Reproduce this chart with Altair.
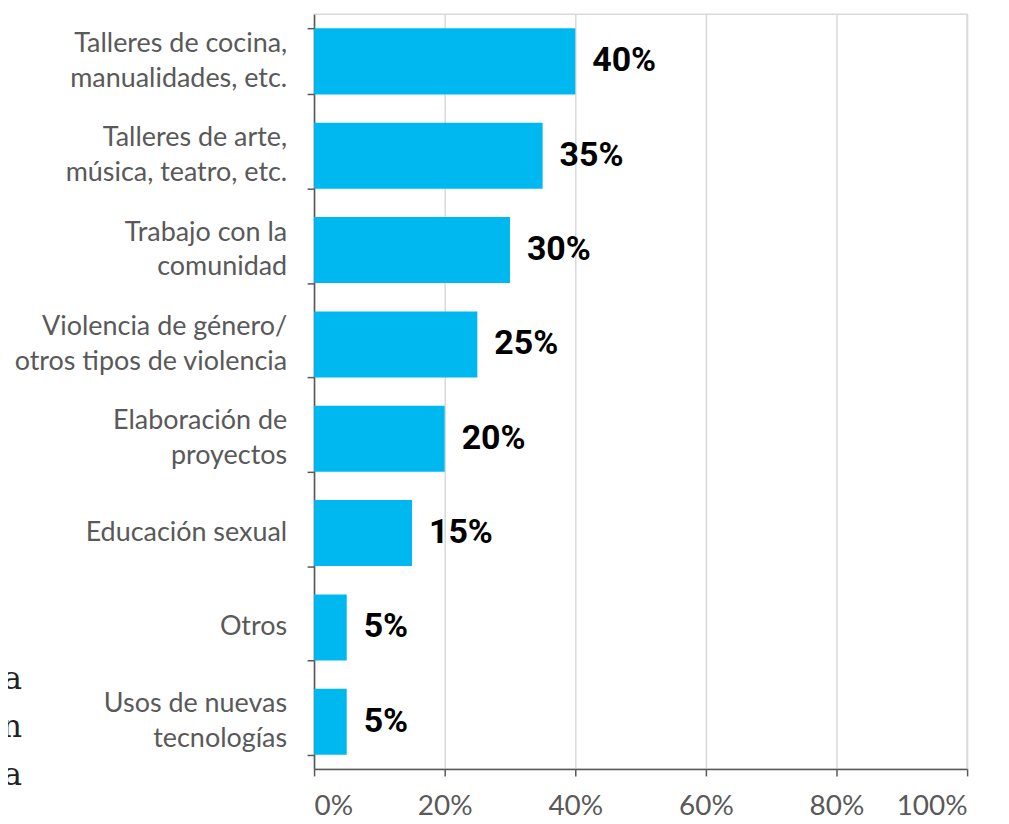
import altair as alt
import pandas as pd

categories = [
    "Talleres de cocina,|manualidades, etc.",
    "Talleres de arte,|música, teatro, etc.",
    "Trabajo con la|comunidad",
    "Violencia de género/|otros tipos de violencia",
    "Elaboración de|proyectos",
    "Educación sexual",
    "Otros",
    "Usos de nuevas|tecnologías",
]
values = [0.40, 0.35, 0.30, 0.25, 0.20, 0.15, 0.05, 0.05]
value_labels = ["40%", "35%", "30%", "25%", "20%", "15%", "5%", "5%"]
x_ticks = [0, 0.2, 0.4, 0.6, 0.8, 1.0]
side_letters = ["a", "n", "a"]

df = pd.DataFrame({"cat": categories, "val": values, "lab": value_labels})

# label rows: line text + which line of how many
lab_rows = []
for c in categories:
    parts = c.split("|")
    for i, p in enumerate(parts):
        kind = "single" if len(parts) == 1 else ("first" if i == 0 else "second")
        lab_rows.append({"cat": c, "line": p, "kind": kind})
lab_df = pd.DataFrame(lab_rows)

band = alt.Scale(domain=categories, paddingInner=0.3, paddingOuter=0.15)

y = alt.Y(
    "cat:N",
    title=None,
    scale=band,
    axis=alt.Axis(
        labels=False,
        tickBand="extent",
        tickSize=7,
        tickColor="#595959",
        tickWidth=1.5,
        domainColor="#595959",
        domainWidth=1.5,
        grid=False,
    ),
)

x = alt.X(
    "val:Q",
    title=None,
    scale=alt.Scale(domain=[0, 1], nice=False),
    axis=alt.Axis(
        values=x_ticks,
        format=".0%",
        labelFont="Lato",
        labelFontSize=28,
        labelColor="#595959",
        labelPadding=17,
        tickSize=7,
        tickColor="#595959",
        tickWidth=1.5,
        domainColor="#595959",
        domainWidth=1.5,
        grid=True,
        gridColor="#d9d9d9",
        gridWidth=1.5,
    ),
)

bars = alt.Chart(df).mark_bar(color="#00B8F0").encode(x=x, y=y)

texts = alt.Chart(df).mark_text(
    align="left", baseline="middle", dx=17, font="Roboto", fontWeight="bold",
    fontSize=34, color="#000000",
).encode(x=alt.X("val:Q"), y=alt.Y("cat:N", scale=band), text="lab:N")

def cat_labels(kind, dy):
    return alt.Chart(lab_df).transform_filter(
        alt.datum.kind == kind
    ).mark_text(
        align="right", baseline="middle", dy=dy, font="Lato", fontSize=27,
        color="#595959",
    ).encode(x=alt.value(-27), y=alt.Y("cat:N", scale=band), text="line:N")

main = alt.layer(
    bars, texts,
    cat_labels("single", 0), cat_labels("first", -17.5), cat_labels("second", 17.5),
)

letters_df = pd.DataFrame({"t": side_letters, "i": [0, 1, 2]})
letters = alt.Chart(letters_df).mark_text(
    align="right", baseline="middle", font="DejaVu Serif", fontSize=32, color="#222222",
).encode(
    text="t:N",
    x=alt.value(-293),
    y=alt.Y("i:Q", scale=alt.Scale(domain=[0, 2], range=[667, 763]), axis=None),
)

chart = alt.layer(main, letters).resolve_scale(y="independent").properties(
    width=655,
    height=757,
    autosize=alt.AutoSizeParams(type="none"),
    padding={"left": 307, "top": 5, "right": 34, "bottom": 54},
).configure_view(stroke="#d9d9d9", strokeWidth=1.5)

chart.save("out.html", embed_options={"renderer": "svg", "actions": False})
